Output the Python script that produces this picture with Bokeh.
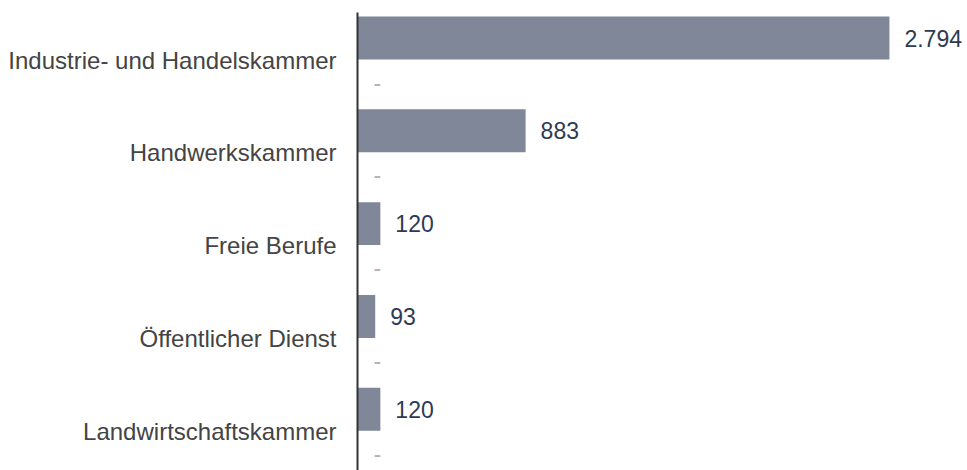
from bokeh.plotting import figure
from bokeh.models import Range1d, FixedTicker, ColumnDataSource
from bokeh.core.properties import value
from bokeh.embed import file_html
from bokeh.resources import INLINE

categories = ["Industrie- und Handelskammer", "Handwerkskammer", "Freie Berufe",
              "Öffentlicher Dienst", "Landwirtschaftskammer"]
values = [2794, 883, 120, 93, 120]
second_values = [0, 0, 0, 0, 0]
second_labels = ["-", "-", "-", "-", "-"]

def fmt(v):
    return f"{v:,}".replace(",", ".")

pos = list(range(len(categories)))
off = 0.237
bar_y = [p_ - off for p_ in pos]
dash_y = [p_ + off for p_ in pos]

src = ColumnDataSource(dict(y=bar_y, v=values, lab=[fmt(v) for v in values]))
src2 = ColumnDataSource(dict(y=dash_y, v=second_values, lab=second_labels))

p = figure(width=967, height=470, output_backend="svg", toolbar_location=None,
           x_range=Range1d(0, 3204), y_range=Range1d(4.423, -0.512))
p.min_border_left = 357
p.min_border_right = 0
p.min_border_top = 12
p.min_border_bottom = 0
p.outline_line_color = None
p.xgrid.visible = False
p.ygrid.visible = False
p.xaxis.visible = False

p.hbar(y="y", left=0, right="v", height=0.463, source=src,
       fill_color="#7f8799", line_color=None)

p.text(x="v", y="y", text="lab", source=src, x_offset=15, text_baseline="middle",
       text_align="left", text_font=value("Liberation Sans"), text_font_size="23px",
       text_color="#2e3a52")
p.text(x="v", y="y", text="lab", source=src2, x_offset=16, text_baseline="middle",
       text_align="left", text_font=value("Liberation Sans"), text_font_size="23px",
       text_color="#b4b4b4")

ax = p.yaxis[0]
ax.ticker = FixedTicker(ticks=pos)
ax.major_label_overrides = {i: c for i, c in zip(pos, categories)}
ax.major_tick_line_color = None
ax.minor_tick_line_color = None
ax.major_tick_out = 0
ax.major_tick_in = 0
ax.major_label_standoff = 21
ax.major_label_text_font = "Liberation Sans"
ax.major_label_text_font_size = "24px"
ax.major_label_text_color = "#444444"
ax.axis_line_color = "#333333"
ax.axis_line_width = 2

open("out.html", "w").write(file_html(p, INLINE))
